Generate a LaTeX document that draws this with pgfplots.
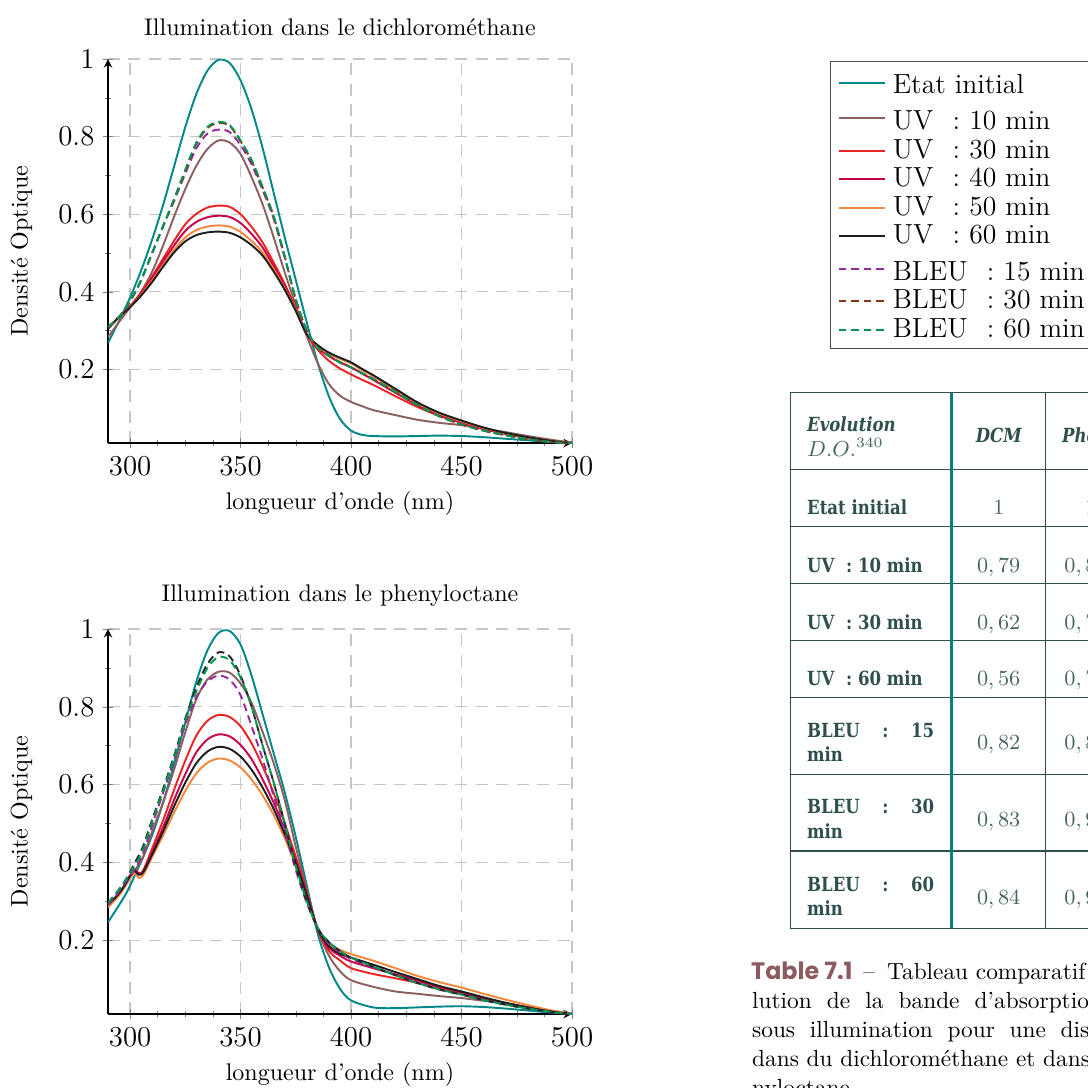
\documentclass[border=0pt]{standalone}
\usepackage{fontspec}
\usepackage{pgfplots}
\usepackage{pgfplotstable}
\pgfplotsset{compat=1.18}
\newfontfamily\tabfont[FakeStretch=0.85]{DejaVu Serif}
\newfontfamily\popfont{Poppins}
\definecolor{cinit}{RGB}{0,135,135}
\definecolor{cuvA}{RGB}{140,95,95}
\definecolor{cuvB}{RGB}{235,35,35}
\definecolor{cuvC}{RGB}{200,0,75}
\definecolor{cuvD}{RGB}{245,135,60}
\definecolor{cuvE}{RGB}{30,30,30}
\definecolor{cbA}{RGB}{150,40,160}
\definecolor{cbB}{RGB}{140,55,20}
\definecolor{cbC}{RGB}{0,150,80}
\definecolor{tabtext}{RGB}{47,79,79}
\definecolor{valc}{RGB}{70,100,100}
\definecolor{tealc}{RGB}{0,128,128}
\definecolor{capc}{RGB}{140,90,95}

\pgfplotstableread{
x init uvA uvB uvC uvD uvE bA bB bC
290 .268 .283 .305 .305 .305 .305 .309 .309 .309
295 .325 .322 .335 .335 .335 .335 .335 .335 .335
300 .385 .36 .363 .362 .361 .360 .375 .375 .375
305 .455 .40 .398 .395 .392 .390 .43 .43 .43
310 .535 .452 .440 .434 .429 .425 .50 .50 .50
315 .625 .52 .486 .478 .470 .465 .57 .57 .57
320 .725 .595 .532 .520 .509 .502 .635 .64 .64
325 .825 .665 .574 .557 .540 .530 .705 .712 .715
330 .91 .725 .601 .580 .559 .546 .77 .782 .785
335 .97 .768 .617 .592 .568 .553 .808 .822 .825
340 .998 .79 .622 .596 .571 .555 .818 .835 .838
345 .99 .785 .619 .593 .568 .552 .812 .828 .83
350 .945 .755 .600 .577 .554 .540 .778 .788 .79
355 .87 .695 .567 .549 .531 .520 .728 .737 .74
360 .77 .625 .527 .514 .501 .493 .662 .668 .67
365 .655 .54 .475 .466 .458 .452 .588 .593 .595
370 .54 .45 .420 .414 .408 .405 .488 .49 .49
375 .43 .365 .357 .354 .352 .350 .38 .38 .38
380 .32 .285 .290 .290 .290 .290 .30 .30 .30
385 .215 .215 .25 .256 .26 .262 .255 .255 .255
390 .13 .162 .222 .234 .24 .243 .235 .235 .235
395 .072 .132 .202 .218 .227 .230 .218 .218 .218
400 .042 .116 .187 .205 .215 .218 .205 .205 .205
405 .031 .105 .173 .189 .198 .201 .19 .19 .19
410 .028 .095 .160 .173 .182 .185 .175 .175 .175
420 .027 .082 .131 .140 .147 .150 .142 .142 .142
430 .028 .07 .103 .108 .112 .115 .108 .108 .108
440 .029 .062 .080 .083 .086 .088 .079 .079 .079
450 .028 .056 .062 .064 .066 .068 .058 .058 .058
460 .025 .047 .046 .047 .049 .050 .042 .042 .042
470 .021 .038 .033 .034 .035 .036 .030 .030 .030
480 .017 .028 .023 .023 .024 .025 .020 .020 .020
490 .013 .019 .015 .015 .016 .016 .013 .013 .013
500 .011 .011 .010 .010 .010 .010 .009 .009 .009
}\dcm

\pgfplotstableread{
x init uvA uvB uvC uvD uvE bA bB bC
290 .246 .285 .29 .29 .284 .29 .29 .295 .295
295 .29 .32 .32 .32 .315 .32 .325 .33 .33
298 .318 .343 .345 .345 .34 .345 .35 .355 .355
300 .34 .36 .367 .366 .36 .365 .365 .375 .372
302 .365 .378 .382 .38 .372 .378 .382 .398 .392
304 .39 .395 .372 .37 .36 .368 .40 .418 .41
306 .415 .415 .38 .378 .368 .375 .425 .443 .435
310 .47 .48 .436 .426 .414 .42 .495 .51 .505
315 .555 .555 .509 .491 .47 .48 .58 .59 .585
320 .655 .64 .588 .562 .529 .545 .665 .675 .67
325 .76 .735 .662 .627 .584 .605 .755 .77 .765
330 .865 .82 .726 .683 .629 .655 .825 .85 .84
335 .945 .87 .764 .716 .656 .685 .865 .91 .90
340 .99 .89 .779 .729 .667 .697 .88 .94 .928
345 .995 .888 .774 .724 .662 .692 .87 .93 .92
350 .96 .86 .750 .702 .644 .672 .83 .88 .875
355 .88 .81 .706 .665 .613 .638 .75 .80 .80
360 .78 .735 .647 .613 .572 .592 .665 .70 .70
365 .68 .655 .578 .553 .522 .537 .57 .605 .605
370 .58 .56 .500 .483 .462 .472 .48 .50 .50
375 .465 .44 .414 .404 .392 .398 .38 .39 .39
380 .34 .33 .322 .318 .313 .315 .295 .30 .30
385 .215 .225 .228 .228 .23 .228 .23 .23 .23
390 .13 .16 .172 .18 .19 .185 .19 .195 .195
395 .075 .12 .148 .16 .175 .165 .168 .172 .172
400 .045 .097 .128 .145 .164 .155 .152 .155 .155
410 .027 .08 .113 .128 .147 .137 .13 .132 .132
420 .025 .068 .102 .112 .128 .118 .11 .11 .11
430 .027 .062 .09 .096 .108 .10 .09 .09 .09
440 .029 .056 .076 .08 .092 .082 .073 .073 .073
450 .03 .051 .064 .066 .078 .068 .06 .06 .06
460 .028 .044 .05 .051 .062 .053 .046 .046 .046
470 .024 .037 .037 .038 .047 .039 .034 .034 .034
480 .019 .028 .026 .027 .033 .027 .024 .024 .024
490 .014 .019 .017 .017 .02 .017 .016 .016 .016
500 .01 .011 .01 .01 .011 .01 .01 .01 .01
}\phoc

\pgfplotsset{
  myax/.style={
    scale only axis, width=193.02pt,
    xmin=290, xmax=500, ymin=0.01, ymax=1,
    axis lines=left, tick align=center,
    axis line style={line width=0.6pt},
    xtick={300,350,400,450,500}, ytick={0.2,0.4,0.6,0.8,1},
    minor x tick num=3, minor y tick num=1,
    grid=major,
    major grid style={gray!45, line width=0.5pt, dash pattern=on 5pt off 3.5pt},
    tick label style={font=\fontsize{12}{14}\selectfont},
    xlabel={longueur d’onde (nm)}, ylabel={Densité Optique},
    ylabel shift=4pt,
    label style={font=\fontsize{10}{12}\selectfont},
    title style={font=\fontsize{10}{12}\selectfont},
    legend image code/.code={\draw[#1] (0cm,0cm) -- (0.68cm,0cm);},
  },
  cv/.style={line width=0.8pt, smooth, tension=0.5},
  dsh/.style={line width=0.8pt, smooth, tension=0.5, dash pattern=on 3.2pt off 2pt},
}

\newcommand{\rowf}{\tabfont\bfseries\fontsize{8.1}{10}\selectfont\color{tabtext}}
\newcommand{\hdf}{\tabfont\bfseries\itshape\fontsize{8.1}{10}\selectfont\color{tabtext}}
\newcommand{\valf}{\fontsize{9.2}{11}\selectfont\color{valc}}
\newcommand{\capf}{\fontsize{9.7}{12}\selectfont}

\begin{document}
\begin{tikzpicture}
\useasboundingbox (0pt,0pt) rectangle (452.608pt,-452.608pt);
\clip (0pt,0pt) rectangle (452.608pt,-452.608pt);

\begin{axis}[myax, at={(44.928pt,-184.288pt)}, anchor=south west, height=159.744pt,
  title={Illumination dans le dichlorométhane},
  legend cell align=left,
  legend style={at={(1.556,0.995)}, anchor=north west, draw=black!70, line width=0.5pt,
    font=\fontsize{11.5}{13}\selectfont, inner xsep=3pt, inner ysep=2pt,
    nodes={inner sep=1.25pt, text depth=0.15em},
    /tikz/every odd column/.append style={column sep=1.5pt}},
]
\addplot[cv,cinit] table[x=x,y=init]{\dcm}; \addlegendentry{\rule{0pt}{10pt}Etat initial}
\addplot[cv,cuvA] table[x=x,y=uvA]{\dcm}; \addlegendentry{\rule{0pt}{11.2pt}UV\hspace{0.7em}: 10 min}
\addplot[cv,cuvB] table[x=x,y=uvB]{\dcm}; \addlegendentry{UV\hspace{0.7em}: 30 min}
\addplot[cv,cuvC] table[x=x,y=uvC]{\dcm}; \addlegendentry{UV\hspace{0.7em}: 40 min}
\addplot[cv,cuvD] table[x=x,y=uvD]{\dcm}; \addlegendentry{UV\hspace{0.7em}: 50 min}
\addplot[cv,cuvE] table[x=x,y=uvE]{\dcm}; \addlegendentry{UV\hspace{0.7em}: 60 min}
\addplot[dsh,cbA] table[x=x,y=bA]{\dcm}; \addlegendentry{\rule{0pt}{11.2pt}BLEU\hspace{0.7em}: 15 min}
\addplot[dsh,cbB] table[x=x,y=bB]{\dcm}; \addlegendentry{BLEU\hspace{0.7em}: 30 min}
\addplot[dsh,cbC] table[x=x,y=bC]{\dcm}; \addlegendentry{BLEU\hspace{0.7em}: 60 min}
\end{axis}

\begin{axis}[myax, at={(44.928pt,-421.824pt)}, anchor=south west, height=160.16pt,
  title={Illumination dans le phenyloctane}]
\addplot[cv,cinit] table[x=x,y=init]{\phoc};
\addplot[cv,cuvA] table[x=x,y=uvA]{\phoc};
\addplot[cv,cuvB] table[x=x,y=uvB]{\phoc};
\addplot[cv,cuvC] table[x=x,y=uvC]{\phoc};
\addplot[cv,cuvD] table[x=x,y=uvD]{\phoc};
\addplot[cv,cuvE] table[x=x,y=uvE]{\phoc};
\addplot[dsh,cbA] table[x=x,y=bA]{\phoc};
\addplot[dsh,black!85] table[x=x,y=bB]{\phoc};
\addplot[dsh,cbC] table[x=x,y=bC]{\phoc};
\end{axis}

\begin{scope}[x=0.416pt,y=-0.416pt]
% table rules
\draw[tabtext, line width=0.6pt] (790.7,392.7) rectangle (1200,928.3);
\foreach \yy in {469.3,526.7,583.3,640.7,697.3,774.3,851}
  \draw[tabtext, line width=0.6pt] (790.7,\yy) -- (1200,\yy);
\draw[tabtext, line width=0.6pt] (1045.7,392.7) -- (1045.7,928.3);
\draw[tabtext, line width=0.6pt] (1118,392.7) -- (1118,928.3);
\draw[tealc, line width=1.3pt] (951.7,392.7) -- (951.7,928.3);
% header
\node[anchor=base west, inner sep=0] at (806.7,431.7) {\hdf Evolution};
\node[anchor=base west, inner sep=0] at (806.7,456.7) {\valf $D.O.^{340}$};
\node[anchor=base, inner sep=0] at (998.7,442) {\hdf DCM};
\node[anchor=base west, inner sep=0] at (1061.7,442) {\hdf Phényloctane};
% row labels
\node[anchor=base west, inner sep=0] at (806.7,514) {\rowf Etat initial};
\node[anchor=base west, inner sep=0] at (806.7,572.5) {\rowf UV\hspace{0.6em}: 10 min};
\node[anchor=base west, inner sep=0] at (806.7,629) {\rowf UV\hspace{0.6em}: 30 min};
\node[anchor=base west, inner sep=0] at (806.7,685.8) {\rowf UV\hspace{0.6em}: 60 min};
\node[anchor=base west, inner sep=0] at (806.7,737) {\rowf\hbox to 52.8pt{BLEU\hfill:\hfill 15}};
\node[anchor=base west, inner sep=0] at (806.7,761) {\rowf min};
\node[anchor=base west, inner sep=0] at (806.7,813.5) {\rowf\hbox to 52.8pt{BLEU\hfill:\hfill 30}};
\node[anchor=base west, inner sep=0] at (806.7,838) {\rowf min};
\node[anchor=base west, inner sep=0] at (806.7,891) {\rowf\hbox to 52.8pt{BLEU\hfill:\hfill 60}};
\node[anchor=base west, inner sep=0] at (806.7,915) {\rowf min};
% values DCM
\node[anchor=base, inner sep=0] at (998.7,514) {\valf $1$};
\node[anchor=base, inner sep=0] at (998.7,572.5) {\valf $0,79$};
\node[anchor=base, inner sep=0] at (998.7,629) {\valf $0,62$};
\node[anchor=base, inner sep=0] at (998.7,685.8) {\valf $0,56$};
\node[anchor=base, inner sep=0] at (998.7,749.7) {\valf $0,82$};
\node[anchor=base, inner sep=0] at (998.7,826.5) {\valf $0,83$};
\node[anchor=base, inner sep=0] at (998.7,904) {\valf $0,84$};
% values phenyloctane
\node[anchor=base, inner sep=0] at (1091,514) {\valf $1$};
\node[anchor=base, inner sep=0] at (1086,572.5) {\valf $0,89$};
\node[anchor=base, inner sep=0] at (1086,629) {\valf $0,78$};
\node[anchor=base, inner sep=0] at (1086,685.8) {\valf $0,70$};
\node[anchor=base, inner sep=0] at (1086,749.7) {\valf $0,88$};
\node[anchor=base, inner sep=0] at (1086,826.5) {\valf $0,94$};
\node[anchor=base, inner sep=0] at (1086,904) {\valf $0,93$};
% caption
\node[anchor=base west, inner sep=0] at (750.7,979.3) {\popfont\bfseries\fontsize{9.9}{12}\selectfont\color{capc}Table 7.1};
\node[anchor=base west, inner sep=0] at (863,979.3) {\capf –};
\node[anchor=base west, inner sep=0] at (886.7,979.3) {\capf Tableau comparatif};
\node[anchor=base west, inner sep=0] at (1097,979.3) {\capf de l’évo-};
\node[anchor=base west, inner sep=0] at (751.7,1008.3) {\capf\spaceskip=6.3pt lution de la bande d’absorption à 340 nm};
\node[anchor=base west, inner sep=0] at (751.7,1037.3) {\capf\spaceskip=6.1pt sous illumination pour une dispersion de};
\node[anchor=base west, inner sep=0] at (751.7,1066.7) {\capf dans du dichlorométhane et dans le phé-};
\node[anchor=base west, inner sep=0] at (751.7,1095.7) {\capf nyloctane.};
\end{scope}
\end{tikzpicture}
\end{document}
